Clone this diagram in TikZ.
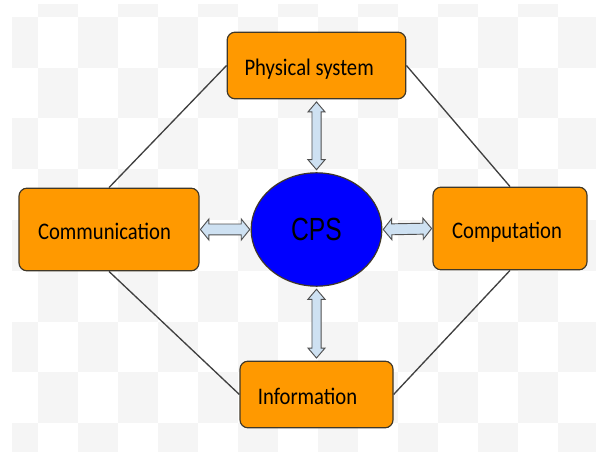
\documentclass[tikz,border=0pt]{standalone}
\usepackage{fontspec}
\usepackage{graphicx}
\setmainfont{Carlito}
\newfontfamily\cpsfont{Liberation Sans}
\usetikzlibrary{calc,shapes.geometric}

\definecolor{boxorange}{RGB}{255,153,0}
\definecolor{boxedge}{RGB}{64,56,40}
\definecolor{cpsblue}{RGB}{0,0,255}
\definecolor{linkgray}{RGB}{64,64,64}
\definecolor{arrowfill}{RGB}{206,225,242}
\definecolor{arrowedge}{RGB}{80,80,80}
\definecolor{checker}{RGB}{245,245,245}

% stretch a piece of text vertically
\newcommand\vstretch[2]{\scalebox{1}[#1]{#2}}

\begin{document}
\begin{tikzpicture}[x=0.75pt,y=-0.75pt,
  stagebox/.style={draw=boxedge, fill=boxorange, line width=0.9pt,
    rounded corners=6pt, inner sep=0pt, text height=15pt, text depth=0pt,
    font=\fontsize{15.5}{18}\selectfont},
  hub/.style={ellipse, draw=boxedge, fill=cpsblue, line width=0.9pt,
    inner sep=0pt, minimum width=98pt, minimum height=85pt,
    font=\cpsfont\fontsize{18.5}{22}\selectfont},
  link/.style={draw=linkgray, line width=1pt},
  % block double arrow: {gap}{gap+head length}{shaft half width}{head half width}
  dblarrow/.style n args={4}{draw=arrowedge, fill=arrowfill, line width=0.7pt,
    line join=miter,
    to path={
      ($(\tikztostart)!#1!(\tikztotarget)$)
      -- ($(\tikztostart)!#2!(\tikztotarget)!#4!90:(\tikztotarget)$)
      -- ($(\tikztostart)!#2!(\tikztotarget)!#3!90:(\tikztotarget)$)
      -- ($(\tikztotarget)!#2!(\tikztostart)!#3!-90:(\tikztostart)$)
      -- ($(\tikztotarget)!#2!(\tikztostart)!#4!-90:(\tikztostart)$)
      -- ($(\tikztotarget)!#1!(\tikztostart)$)
      -- ($(\tikztotarget)!#2!(\tikztostart)!#4!90:(\tikztostart)$)
      -- ($(\tikztotarget)!#2!(\tikztostart)!#3!90:(\tikztostart)$)
      -- ($(\tikztostart)!#2!(\tikztotarget)!#3!-90:(\tikztotarget)$)
      -- ($(\tikztostart)!#2!(\tikztotarget)!#4!-90:(\tikztotarget)$)
      -- cycle}}
]

% page and checkered backdrop
\fill[white] (0,0) rectangle (596,452);
\useasboundingbox (0,0) rectangle (596,452);
\begin{scope}
  \clip (12,5) rectangle (596,452);
  \foreach \c in {0,...,15}{
    \foreach \r in {0,...,9}{
      \pgfmathtruncatemacro\cellodd{mod(\c+\r,2)}
      \ifnum\cellodd=1
        \fill[checker] ({-2+40*\c},{-33.75+50.75*\r}) rectangle ++(40,50.75);
      \fi
    }
  }
\end{scope}

% the four domains and the hub
\node[stagebox, minimum width=134pt, minimum height=50pt] (phys) at (316.5,65.5)
  {\vstretch{1.15}{Physical system}\kern11pt};
\node[stagebox, minimum width=135pt, minimum height=62pt] (comm) at (109,229.5)
  {\vstretch{1.15}{Communication}\kern6.75pt};
\node[stagebox, minimum width=115.5pt, minimum height=62pt] (comp) at (510,228.5)
  {\vstretch{1.15}{Computation}\kern4.5pt};
\node[stagebox, minimum width=114.75pt, minimum height=50pt] (info) at (316.5,394.5)
  {\vstretch{1.15}{Information}\kern13.5pt};
\node[hub] (cps) at (316.5,229.5) {\vstretch{1.3}{CPS}};

% ring of plain links
\draw[link] (phys.west) -- (comm.north);
\draw[link] (phys.east) -- (comp.north);
\draw[link] (comm.south) -- (info.west);
\draw[link] (comp.south) -- (info.east);

% two-way exchanges with the hub
\draw[dblarrow={1.9pt}{9.4pt}{3.4pt}{6.4pt}] (phys.south) to (cps.north);
\draw[dblarrow={1.9pt}{9.4pt}{3.4pt}{6.4pt}] (cps.south) to (info.north);
\draw[dblarrow={0.6pt}{7pt}{4.1pt}{7.9pt}] (comm.east) to (cps.west);
\draw[dblarrow={0.6pt}{7pt}{4.1pt}{7.9pt}] (cps.east) to (comp.west);
\end{tikzpicture}
\end{document}
